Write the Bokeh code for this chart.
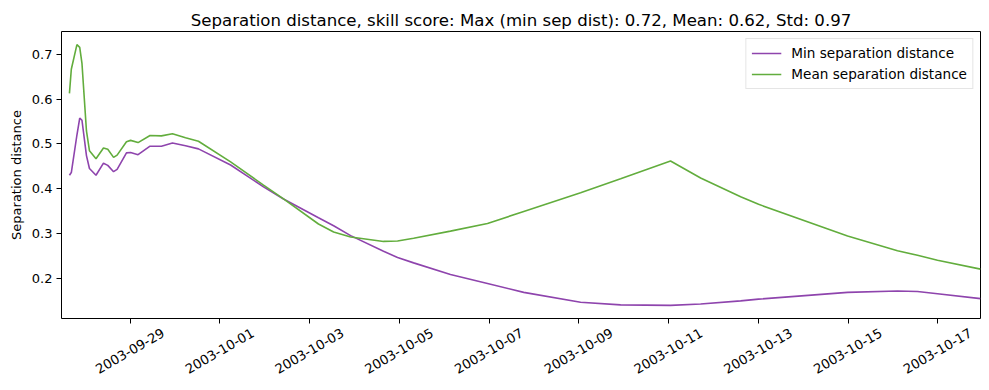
import math
import pandas as pd
from bokeh.plotting import figure
from bokeh.models import (Range1d, FixedTicker, DatetimeTickFormatter, Legend, LegendItem,
                          DatetimeAxis)
from bokeh.embed import file_html
from bokeh.resources import INLINE

title_text = "Separation distance, skill score: Max (min sep dist): 0.72, Mean: 0.62, Std: 0.97"
y_label = "Separation distance"
series_names = ["Min separation distance", "Mean separation distance"]

start = "2003-09-27 00:00"
hours = [15.5, 16.5, 19.5, 21.0, 22.2, 24.6, 26.2, 29.7, 33.7, 36.0, 39.1, 41.0, 46.0, 48.2,
         52.2, 58.6, 64.7, 70.6, 77.6, 84.5, 101.7, 119.3, 130.0, 148.7, 156.8, 165.9, 183.5,
         191.0, 199.6, 219.3, 239.1, 258.5, 288.9, 310.3, 337.0, 353.1, 374.5, 384.1, 431.7,
         458.4, 469.1, 479.8, 502.8]
min_sep = [0.430, 0.436, 0.520, 0.558, 0.553, 0.474, 0.445, 0.430, 0.457, 0.452, 0.438, 0.443,
           0.480, 0.481, 0.476, 0.495, 0.495, 0.502, 0.496, 0.489, 0.453, 0.404, 0.377, 0.335,
           0.317, 0.295, 0.260, 0.246, 0.234, 0.208, 0.188, 0.168, 0.146, 0.140, 0.139, 0.142,
           0.149, 0.153, 0.168, 0.171, 0.170, 0.165, 0.154]
mean_sep = [0.613, 0.667, 0.722, 0.716, 0.680, 0.529, 0.485, 0.467, 0.491, 0.488, 0.470, 0.475,
            0.505, 0.508, 0.503, 0.519, 0.518, 0.523, 0.514, 0.506, 0.460, 0.408, 0.377, 0.321,
            0.303, 0.292, 0.282, 0.283, 0.289, 0.305, 0.322, 0.349, 0.391, 0.422, 0.462, 0.424,
            0.382, 0.365, 0.294, 0.261, 0.251, 0.240, 0.220]
x_limits_hours = [11.25, 502.8]
x_tick_labels = ["2003-09-29", "2003-10-01", "2003-10-03", "2003-10-05", "2003-10-07",
                 "2003-10-09", "2003-10-11", "2003-10-13", "2003-10-15", "2003-10-17"]
y_ticks = [0.2, 0.3, 0.4, 0.5, 0.6, 0.7]
y_limits = [0.1096, 0.7515]

t0 = pd.Timestamp(start)
times = [t0 + pd.Timedelta(hours=h) for h in hours]
xr = Range1d(start=t0 + pd.Timedelta(hours=x_limits_hours[0]),
             end=t0 + pd.Timedelta(hours=x_limits_hours[1]))

FONT = "DejaVu Sans"
p = figure(width=989, height=390, x_axis_type="datetime", x_range=xr,
           y_range=Range1d(*y_limits), output_backend="svg", toolbar_location=None,
           min_border_left=61, min_border_right=9, min_border_top=31, min_border_bottom=72,
           title=title_text)
p.title.align = "center"
p.title.text_font = FONT
p.title.text_font_size = "16.6px"
p.title.text_font_style = "normal"
p.title.text_color = "black"
p.title.standoff = 4

purple = "#8e44ad"
green = "#62ad3d"
r1 = p.line(times, min_sep, line_color=purple, line_width=1.6)
r2 = p.line(times, mean_sep, line_color=green, line_width=1.6)

legend = Legend(items=[LegendItem(label=series_names[0], renderers=[r1]),
                       LegendItem(label=series_names[1], renderers=[r2])],
                location="top_right")
legend.label_text_font = FONT
legend.label_text_font_size = "13.6px"
legend.label_text_color = "black"
legend.padding = 5
legend.spacing = 3
legend.label_height = 18
legend.glyph_height = 18
legend.glyph_width = 30
legend.label_standoff = 10
legend.margin = 7
legend.border_line_color = "#cccccc"
legend.background_fill_alpha = 0.8
p.add_layout(legend)

p.grid.visible = False
p.outline_line_color = "black"
p.outline_line_width = 1
p.outline_line_alpha = 1

fmt = "%Y-%m-%d"
def date_fmt():
    return DatetimeTickFormatter(days=fmt, months=fmt, years=fmt, hours=fmt, hourmin=fmt,
                                 minutes=fmt, minsec=fmt, seconds=fmt, milliseconds=fmt,
                                 microseconds=fmt)

tick_times = [pd.Timestamp(s) for s in x_tick_labels]
tick_ms = [t.value / 1e6 for t in tick_times]
p.xaxis.ticker = FixedTicker(ticks=tick_ms)
p.xaxis.formatter = date_fmt()
p.xaxis.major_label_text_font_size = "0px"
p.xaxis.major_label_text_alpha = 0
p.xaxis.major_label_standoff = 0
p.yaxis.ticker = FixedTicker(ticks=y_ticks)
p.yaxis.axis_label = y_label

for ax in (p.xaxis[0], p.yaxis[0]):
    ax.axis_line_color = None
    ax.major_tick_line_color = "black"
    ax.major_tick_out = 5
    ax.major_tick_in = 0
    ax.minor_tick_line_color = None
    ax.major_label_text_font = FONT
    ax.major_label_text_color = "black"
    ax.axis_label_text_font = FONT
    ax.axis_label_text_font_size = "13px"
    ax.axis_label_text_font_style = "normal"
    ax.axis_label_text_color = "black"
p.yaxis.major_label_standoff = 4
p.yaxis.major_label_text_font_size = "13px"

# label axis: rotated labels, centred under the real ticks (same calendar day, shifted anchor)
label_shift_ms = 17.5 * 3600 * 1000
label_axis = DatetimeAxis(ticker=FixedTicker(ticks=[m + label_shift_ms for m in tick_ms]),
                          formatter=date_fmt())
label_axis.axis_line_color = None
label_axis.major_tick_line_color = None
label_axis.minor_tick_line_color = None
label_axis.major_tick_out = 0
label_axis.major_tick_in = 0
label_axis.major_label_standoff = 8
label_axis.major_label_orientation = math.pi / 6
label_axis.major_label_text_font = FONT
label_axis.major_label_text_font_size = "13.2px"
label_axis.major_label_text_color = "black"
p.add_layout(label_axis, "below")

open("out.html", "w").write(file_html(p, INLINE))
